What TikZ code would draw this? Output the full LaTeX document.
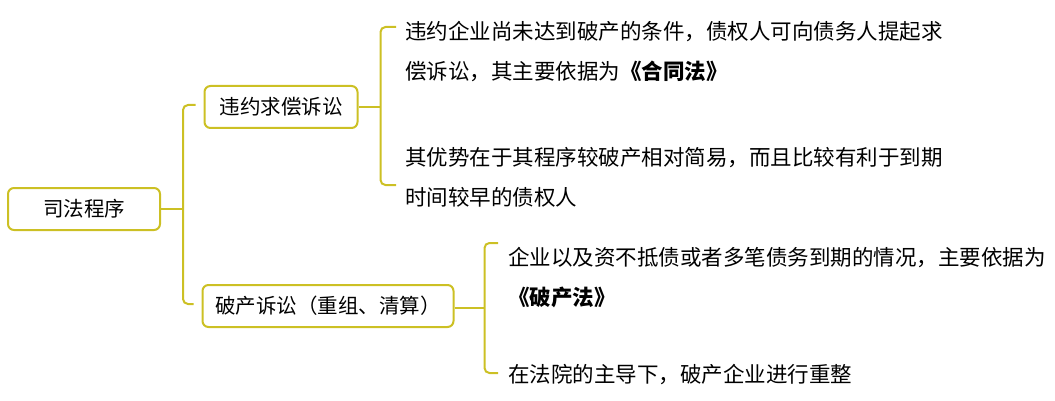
\documentclass[tikz,border=0pt]{standalone}
\usepackage{fontspec}
\setmainfont{Noto Sans CJK SC}
\definecolor{mapline}{RGB}{204,192,36}
\tikzset{
  topic/.style={draw=mapline, line width=2pt, rounded corners=6pt, minimum height=42pt,
    inner sep=0pt, font=\fontsize{20.5}{24}\selectfont},
  leaf/.style={anchor=north west, align=left, inner sep=0pt, font=\fontsize{21.5}{40}\selectfont},
  branch/.style={draw=mapline, line width=2pt, rounded corners=5pt}
}
\begin{document}
\begin{tikzpicture}[x=1pt,y=-1pt]
\useasboundingbox (0,0) rectangle (1055,401);

% topics
\node[topic, minimum width=152pt] (root) at (84,209) {司法程序};
\node[topic, minimum width=153pt] (civil) at (281,107) {违约求偿诉讼};
\node[topic, minimum width=251pt] (bankr) at (328,306) {破产诉讼（重组、清算）};

% leaves
\node[leaf] (c1) at (405,21) {违约企业尚未达到破产的条件，债权人可向债务人提起求\\偿诉讼，其主要依据为\textbf{《合同法》}};
\node[leaf] (c2) at (405,147) {其优势在于其程序较破产相对简易，而且比较有利于到期\\时间较早的债权人};
\node[leaf] (b1) at (508,247) {企业以及资不抵债或者多笔债务到期的情况，主要依据为\\\textbf{《破产法》}};
\node[leaf] (b2) at (508,364) {在法院的主导下，破产企业进行重整};

% brackets
\coordinate (m0) at ([xshift=22pt]root.east);
\draw[branch] (root.east) -- (m0);
\draw[branch] ([xshift=-8pt,yshift=2pt]civil.west) -| (m0) |- ([xshift=-8pt,yshift=2pt]bankr.west);

\coordinate (m1) at ([xshift=22pt]civil.east);
\coordinate (e1) at ([xshift=-9pt,yshift=-6pt]c1.north west);
\coordinate (e2) at ([xshift=-9pt,yshift=-38pt]c2.north west);
\draw[branch] (civil.east) -- (m1);
\draw[branch] (e1) -| (m1) |- (e2);

\coordinate (m2) at ([xshift=30pt,yshift=-2pt]bankr.east);
\coordinate (e3) at ([xshift=-10pt,yshift=4pt]b1.north west);
\coordinate (e4) at ([xshift=-10pt,yshift=-9pt]b2.north west);
\draw[branch] ([yshift=-2pt]bankr.east) -- (m2);
\draw[branch] (e3) -| (m2) |- (e4);
\end{tikzpicture}
\end{document}
